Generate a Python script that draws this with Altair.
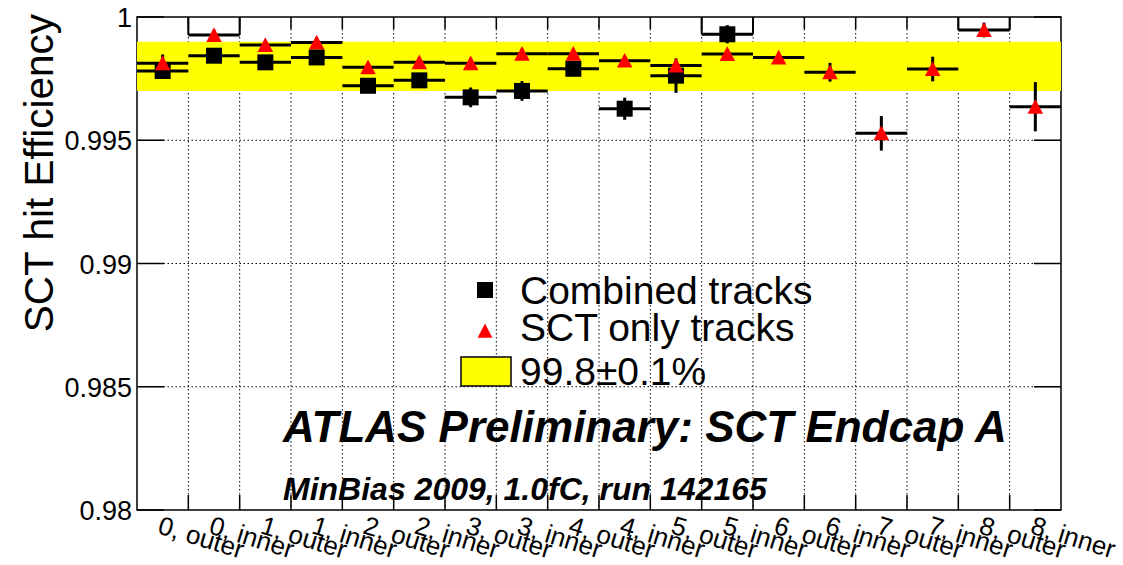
import altair as alt
import pandas as pd

# ---------------- data ----------------
labels = ["0, outer", "0, inner", "1, outer", "1, inner", "2, outer", "2, inner",
          "3, outer", "3, inner", "4, outer", "4, inner", "5, outer", "5, inner",
          "6, outer", "6, inner", "7, outer", "7, inner", "8, outer", "8, inner"]

combined = [0.99781, 0.99843, 0.99816, 0.99836, 0.99721, 0.99743, 0.99674, 0.99700,
            0.99790, 0.99628, 0.99762, 0.99930, None, None, None, None, None, None]
combined_err = [0.0002, 0.0002, 0.0002, 0.0002, 0.0003, 0.0003, 0.0004, 0.0004,
                0.0003, 0.00045, 0.0007, 0.00037, None, None, None, None, None, None]

sct = [0.99812, 0.99927, 0.99886, 0.99897, 0.99796, 0.99816, 0.99812, 0.99851,
       0.99851, 0.99823, 0.99803, 0.99850, 0.99836, 0.99776, 0.99528, 0.99789,
       0.99947, 0.99636]
sct_err = [0.00036, 0.0002, 0.0002, 0.0002, 0.0002, 0.0002, 0.0002, 0.0002,
           0.0002, 0.0002, 0.0002, 0.0002, 0.0002, 0.00038, 0.0007, 0.0005,
           0.0003, 0.001]

y_ticks = [0.98, 0.985, 0.99, 0.995, 1.0]
y_tick_labels = ["0.98", "0.985", "0.99", "0.995", "1"]
y_grid = [0.985, 0.99, 0.995]
band_lo, band_hi = 0.997, 0.999
y_min, y_max = 0.98, 1.0

legend_labels = ["Combined tracks", "SCT only tracks", "99.8\u00b10.1%"]
title_text = "ATLAS Preliminary: SCT Endcap A"
subtitle_text = "MinBias 2009, 1.0fC, run 142165"
y_title = "SCT hit Efficiency"

# ---------------- layout / style ----------------
W, H = 924, 493
FONT = "Liberation Sans, Arial, Helvetica, sans-serif"
nb = len(labels)

xs = alt.Scale(domain=[0, nb], nice=False, zero=False)
ys = alt.Scale(domain=[y_min, y_max], nice=False, zero=False)


def series_df(vals, errs):
    rows = []
    for i, (v, e) in enumerate(zip(vals, errs)):
        if v is None:
            continue
        rows.append({"lo": i, "hi": i + 1, "mid": i + 0.5, "val": v,
                     "ylo": v - e, "yhi": v + e, "top": y_max})
    return pd.DataFrame(rows)


df_c = series_df(combined, combined_err)
df_s = series_df(sct, sct_err)
df_lab = pd.DataFrame({"mid": [i + 0.5 for i in range(nb)], "label": labels})
df_edges = pd.DataFrame({"edge": list(range(1, nb))})
df_yt = pd.DataFrame({"val": y_ticks, "lab": y_tick_labels})
df_yg = pd.DataFrame({"val": y_grid})
df_band = pd.DataFrame({"x0": [0], "x1": [nb], "lo": [band_lo], "hi": [band_hi]})

# high bins drawn with histogram-outline edges up to the top frame
hi_rows = []
for d in (df_c, df_s):
    for _, r in d[d["val"] >= 0.9992].iterrows():
        hi_rows.append({"edge": r["lo"], "val": r["val"], "top": y_max})
        hi_rows.append({"edge": r["hi"], "val": r["val"], "top": y_max})
df_hi = pd.DataFrame(hi_rows)

X = lambda f: alt.X(f, type="quantitative", scale=xs, axis=None)
Y = lambda f: alt.Y(f, type="quantitative", scale=ys, axis=None)

dot = dict(color="#000000", strokeWidth=1, strokeDash=[1.5, 2.5])

vgrid = alt.Chart(df_edges).mark_rule(**dot).encode(x=X("edge"))
hgrid = alt.Chart(df_yg).mark_rule(**dot).encode(y=Y("val"))

band = alt.Chart(df_band).mark_rect(color="#ffff00").encode(
    x=X("x0"), x2="x1", y=Y("lo"), y2="hi")

outline = alt.Chart(df_hi).mark_rule(color="black", strokeWidth=2).encode(
    x=X("edge"), y=Y("val"), y2="top")

# ticks (inward)
ytick_left = alt.Chart(df_yt).mark_rule(color="black", strokeWidth=1.5).encode(
    y=Y("val"), x=alt.value(0), x2=alt.value(27))
ytick_right = alt.Chart(df_yt).mark_rule(color="black", strokeWidth=1.5).encode(
    y=Y("val"), x=alt.value(W - 27), x2=alt.value(W))
xtick_bot = alt.Chart(df_edges).mark_rule(color="black", strokeWidth=1.5).encode(
    x=X("edge"), y=alt.value(H), y2=alt.value(H - 15))
xtick_top = alt.Chart(df_edges).mark_rule(color="black", strokeWidth=1.5).encode(
    x=X("edge"), y=alt.value(0), y2=alt.value(12))

# y tick labels and y title
ylab = alt.Chart(df_yt).mark_text(align="right", baseline="middle", fontSize=27,
                                  font=FONT, color="black", dy=2).encode(
    y=Y("val"), x=alt.value(-5), text="lab:N")
ytitle = alt.Chart(pd.DataFrame({"t": [y_title]})).mark_text(
    angle=270, align="right", baseline="alphabetic", fontSize=40.5, font=FONT,
    color="black").encode(x=alt.value(-84), y=alt.value(-3), text="t:N")

# series
c_h = alt.Chart(df_c).mark_rule(color="black", strokeWidth=3).encode(
    x=X("lo"), x2="hi", y=Y("val"))
c_v = alt.Chart(df_c).mark_rule(color="black", strokeWidth=3).encode(
    x=X("mid"), y=Y("ylo"), y2="yhi")
c_pt = alt.Chart(df_c).mark_square(color="black", size=256, opacity=1).encode(
    x=X("mid"), y=Y("val"))

s_h = alt.Chart(df_s).mark_rule(color="black", strokeWidth=3).encode(
    x=X("lo"), x2="hi", y=Y("val"))
s_v = alt.Chart(df_s).mark_rule(color="black", strokeWidth=3).encode(
    x=X("mid"), y=Y("ylo"), y2="yhi")
TRI = "M0,-1L1,0.9L-1,0.9Z"
s_pt = alt.Chart(df_s).mark_point(shape=TRI, filled=True, color="#ff0000",
                                  size=240, opacity=1).encode(
    x=X("mid"), y=Y("val"))

# x labels (rotated)
xlab = alt.Chart(df_lab).mark_text(angle=17, align="left", baseline="top",
                                   fontSize=26, font=FONT, color="black").encode(
    x=X("mid"), y=alt.value(H + 3), text="label:N")

# legend
leg_sq = alt.Chart(pd.DataFrame({"k": [legend_labels[0]]})).mark_square(
    color="black", size=256, opacity=1).encode(x=alt.value(348), y=alt.value(273))
leg_tri = alt.Chart(pd.DataFrame({"k": [legend_labels[1]]})).mark_point(
    shape=TRI, filled=True, color="#ff0000", size=220, opacity=1).encode(
    x=alt.value(348), y=alt.value(314))
leg_box = alt.Chart(pd.DataFrame({"k": [legend_labels[2]]})).mark_rect(
    fill="#ffff00", stroke="black", strokeWidth=1.5).encode(
    x=alt.value(324), x2=alt.value(374), y=alt.value(340), y2=alt.value(369))
leg_txt = [
    alt.Chart(pd.DataFrame({"t": [lab]})).mark_text(
        align="left", baseline="alphabetic", fontSize=39, font=FONT,
        color="black").encode(x=alt.value(383), y=alt.value(yb), text="t:N")
    for lab, yb in zip(legend_labels, [287, 324, 368])
]

atlas = alt.Chart(pd.DataFrame({"t": [title_text]})).mark_text(
    align="left", baseline="alphabetic", fontSize=44, font=FONT,
    fontWeight="bold", fontStyle="italic", color="black").encode(
    x=alt.value(146), y=alt.value(425), text="t:N")
sub = alt.Chart(pd.DataFrame({"t": [subtitle_text]})).mark_text(
    align="left", baseline="alphabetic", fontSize=32, font=FONT,
    fontWeight="bold", fontStyle="italic", color="black").encode(
    x=alt.value(146), y=alt.value(483), text="t:N")

chart = alt.layer(
    vgrid, hgrid, band, outline,
    ytick_left, ytick_right, xtick_bot, xtick_top,
    c_h, c_v, c_pt, s_h, s_v, s_pt,
    xlab, ylab, ytitle, leg_sq, leg_tri, leg_box, *leg_txt, atlas, sub
).properties(
    width=W, height=H,
    autosize=alt.AutoSizeParams(type="none"),
    padding={"left": 137, "top": 17, "right": 62, "bottom": 55},
    background="white",
).configure_view(stroke="black", strokeWidth=1.5)

chart.save("out.html", embed_options={"renderer": "svg", "actions": False})
